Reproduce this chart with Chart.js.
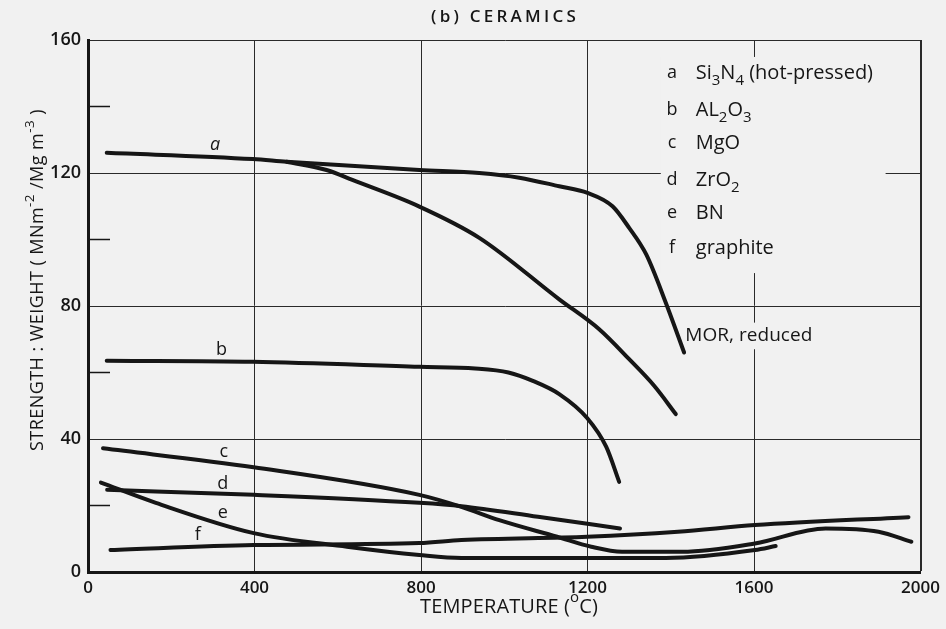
<!DOCTYPE html>
<html>
<head>
<meta charset="utf-8">
<script src="https://cdn.jsdelivr.net/npm/chart.js@4.4.0/dist/chart.umd.min.js"></script>
<style>
  body { margin: 0; background: #f1f1f1; }
  canvas { display: block; }
</style>
</head>
<body>
<canvas id="myChart" width="946" height="629"></canvas>
<script>
// curves: temperature (C) against strength:weight

const aTemp = [45, 396, 477, 796, 940, 1036, 1132, 1200, 1260, 1300, 1341, 1388, 1432];
const aVal  = [126.1, 124.2, 123.4, 120.9, 120.0, 118.6, 116.0, 114.0, 110.0, 103.5, 95.5, 81.0, 66.0];

// the branch that splits off curve a
const morTemp = [477, 573, 635, 796, 940, 1132, 1228, 1300, 1360, 1412];
const morVal  = [123.4, 120.9, 117.9, 109.9, 100.5, 82, 73, 64, 56, 47.5];

const bTemp = [45, 396, 796, 930, 1010, 1070, 1132, 1199, 1245, 1276];
const bVal  = [63.5, 63.2, 61.7, 61.2, 60.0, 57.4, 53.5, 46.3, 37.6, 27.1];

const cTemp = [36, 398, 796, 897, 988, 1127, 1209, 1283, 1427, 1602, 1772, 1899, 1978];
const cVal  = [37.2, 31.5, 23.2, 19.6, 15.6, 10.6, 7.6, 6.1, 6.1, 8.6, 13.1, 12.1, 9.1];

const dTemp = [46, 398, 796, 897, 1081, 1278];
const dVal  = [24.7, 23.2, 20.8, 19.8, 16.6, 13.1];

const eTemp = [31, 163, 398, 622, 796, 897, 1199, 1388, 1602, 1652];
const eVal  = [26.9, 20.8, 11.7, 7.6, 5.1, 4.2, 4.2, 4.2, 6.6, 7.8];

const fTemp = [54, 398, 796, 897, 1199, 1417, 1602, 1971];
const fVal  = [6.6, 8.1, 8.7, 9.6, 10.6, 12.1, 14.1, 16.5];

const xTicks = [0, 400, 800, 1200, 1600, 2000];
const yTicks = [0, 40, 80, 120, 160];

// curve letters, placed in data units
const curveLetters = ['a', 'b', 'c', 'd', 'e', 'f'];
const letterTemp = [305, 321, 326, 324, 324, 264];
const letterVal  = [128.4, 66.8, 36.1, 26.5, 17.7, 11.1];

// key in the top right
const keyLetters = ['a', 'b', 'c', 'd', 'e', 'f'];
const keyNames = [
  [['Si', ''], ['3', 'sub'], ['N', ''], ['4', 'sub'], [' (hot-pressed)', '']],
  [['AL', ''], ['2', 'sub'], ['O', ''], ['3', 'sub']],
  [['MgO', '']],
  [['ZrO', ''], ['2', 'sub']],
  [['BN', '']],
  [['graphite', '']]
];
const keyVal = [150.1, 139.0, 129.0, 117.9, 107.9, 97.4];

const paper = '#f1f1f1';
const ink = '#161616';
const font = "'Open Sans', 'DejaVu Sans', sans-serif";

function pts(xs, ys) {
  return xs.map((x, i) => ({ x: x, y: ys[i] }));
}

function curve(label, xs, ys) {
  return {
    label: label,
    data: pts(xs, ys),
    borderColor: ink,
    borderWidth: 4,
    borderCapStyle: 'round',
    pointRadius: 0,
    cubicInterpolationMode: 'monotone',
    fill: false
  };
}

// text with sub / superscripts, parts = [[text, 'sub'|'sup'|'']]
// if fit is given the letters get spaced out to that total width
function rich(ctx, parts, x, y, size, family, align, fit, weight) {
  weight = weight ? weight + ' ' : '';
  ctx.letterSpacing = '0px';
  const fonts = parts.map(p => weight + (p[1] ? size * 0.75 : size) + 'px ' + family);
  let widths = parts.map((p, i) => { ctx.font = fonts[i]; return ctx.measureText(p[0]).width; });
  let total = widths.reduce((s, w) => s + w, 0);
  let gap = 0;
  if (fit) {
    const n = parts.reduce((s, p) => s + p[0].length, 0);
    gap = (fit - total) / n;
    widths = parts.map((p, i) => widths[i] + gap * p[0].length);
    total = fit;
  }
  let cx = align === 'left' ? x : x - total / 2;
  ctx.textAlign = 'left';
  ctx.textBaseline = 'middle';
  ctx.letterSpacing = gap + 'px';
  parts.forEach((p, i) => {
    ctx.font = fonts[i];
    let dy = 0;
    if (p[1] === 'sub') dy = size * 0.38;
    if (p[1] === 'sup') dy = -size * 0.45;
    ctx.fillText(p[0], cx, y + dy);
    cx += widths[i];
  });
  ctx.letterSpacing = '0px';
}

const paperBoxes = {
  id: 'paperBoxes',
  beforeDatasetsDraw(chart) {
    const { ctx, scales: { x, y } } = chart;
    ctx.save();
    ctx.fillStyle = paper;
    // gridlines are broken behind the key and the MOR note
    ctx.fillRect(x.getPixelForValue(1376), y.getPixelForValue(154.9),
      x.getPixelForValue(1916) - x.getPixelForValue(1376),
      y.getPixelForValue(89.9) - y.getPixelForValue(154.9));
    ctx.fillRect(x.getPixelForValue(1440), y.getPixelForValue(75),
      x.getPixelForValue(1740) - x.getPixelForValue(1440),
      y.getPixelForValue(67) - y.getPixelForValue(75));
    ctx.restore();
  }
};

const labels = {
  id: 'labels',
  afterDraw(chart) {
    const { ctx, scales: { x, y }, chartArea: area } = chart;
    ctx.save();
    ctx.fillStyle = ink;
    ctx.strokeStyle = ink;

    // minor ticks on the left axis
    ctx.lineWidth = 1.5;
    [20, 60, 100, 140].forEach(v => {
      const py = y.getPixelForValue(v);
      ctx.beginPath();
      ctx.moveTo(area.left, py);
      ctx.lineTo(area.left + 22, py);
      ctx.stroke();
    });

    // title
    rich(ctx, [['(b) CERAMICS', '']], 505, 17, 17, font, 'center', 148, '600');

    // axis titles
    rich(ctx, [['TEMPERATURE (', ''], ['o', 'sup'], ['C)', '']], 509, 607, 20, font, 'center', 178);
    ctx.save();
    ctx.translate(38, 280);
    ctx.rotate(-Math.PI / 2);
    rich(ctx, [['STRENGTH : WEIGHT ( MNm', ''], ['-2', 'sup'], [' /Mg m', ''], ['-3', 'sup'], [' )', '']], 0, 0, 18, font, 'center', 342);
    ctx.restore();

    // curve letters
    curveLetters.forEach((l, i) => {
      const f = i === 0 ? 'italic ' : '';
      ctx.font = f + '18px ' + font;
      ctx.textAlign = 'center';
      ctx.textBaseline = 'middle';
      ctx.fillText(l, x.getPixelForValue(letterTemp[i]), y.getPixelForValue(letterVal[i]));
    });

    // key
    keyLetters.forEach((l, i) => {
      const py = y.getPixelForValue(keyVal[i]);
      rich(ctx, [[l, '']], x.getPixelForValue(1403), py, 18, font);
      rich(ctx, keyNames[i], x.getPixelForValue(1460), py, 20, font, 'left');
    });
    rich(ctx, [['MOR, reduced', '']], x.getPixelForValue(1435), y.getPixelForValue(71), 19, font, 'left', 127);

    ctx.restore();
  }
};

const ctx = document.getElementById('myChart');

new Chart(ctx, {
  type: 'line',
  data: {
    datasets: [
      curve('a', aTemp, aVal),
      curve('a branch', morTemp, morVal),
      curve('b', bTemp, bVal),
      curve('c', cTemp, cVal),
      curve('d', dTemp, dVal),
      curve('e', eTemp, eVal),
      curve('f', fTemp, fVal)
    ]
  },
  options: {
    responsive: false,
    animation: false,
    devicePixelRatio: 1,
    layout: { padding: { top: 40, right: 24, left: 0, bottom: 0 } },
    plugins: {
      legend: { display: false },
      tooltip: { enabled: false }
    },
    scales: {
      x: {
        type: 'linear',
        min: 0,
        max: 2000,
        afterFit(s) { s.height = 57; },
        afterBuildTicks(s) { s.ticks = xTicks.map(v => ({ value: v })); },
        border: { display: true, color: ink, width: 3 },
        grid: {
          drawTicks: false,
          color: c => c.tick.value === 0 ? 'rgba(0,0,0,0)' : '#2a2a2a',
          lineWidth: c => c.tick.value === 2000 ? 2 : 1
        },
        ticks: {
          padding: 6,
          color: ink,
          callback: v => String(v),
          font: { family: font, size: 17, weight: '600' }
        }
      },
      y: {
        min: 0,
        max: 160,
        afterFit(s) { s.width = 88; },
        afterBuildTicks(s) { s.ticks = yTicks.map(v => ({ value: v })); },
        border: { display: true, color: ink, width: 3 },
        grid: {
          drawTicks: false,
          color: c => c.tick.value === 0 ? 'rgba(0,0,0,0)' : '#2a2a2a',
          lineWidth: 1
        },
        ticks: {
          padding: 7,
          color: ink,
          callback: v => String(v),
          font: { family: font, size: 18, weight: '600' }
        }
      }
    }
  },
  plugins: [paperBoxes, labels]
});
</script>
</body>
</html>
